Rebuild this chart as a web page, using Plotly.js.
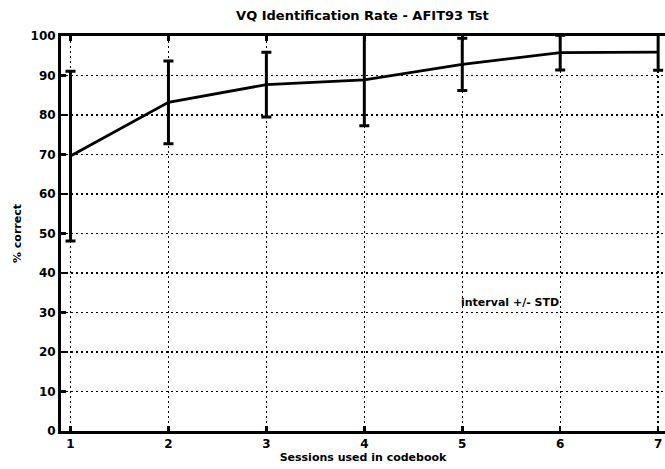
<!DOCTYPE html>
<html><head><meta charset="utf-8">
<script src="https://cdn.plot.ly/plotly-3.0.1.min.js"></script>
<style>body{margin:0;background:#fff}#c{width:665px;height:469px}</style>
</head><body><div id="c"></div>
<script>
const sessions = [1, 2, 3, 4, 5, 6, 7];
const rate = [69.6, 83.2, 87.7, 88.9, 92.8, 95.8, 95.9];
const stdDev = [21.5, 10.5, 8.2, 11.6, 6.6, 4.4, 4.6];
const yTicks = [0, 10, 20, 30, 40, 50, 60, 70, 80, 90, 100];

const fam = 'DejaVu Sans, Liberation Sans, Arial, sans-serif';
const font = (size) => ({family: fam, color: '#000', weight: 'bold', size: size});
const grid = {showgrid: true, gridcolor: '#000', griddash: '1.5px,3.5px', gridwidth: 1.3};

Plotly.newPlot('c', [{
  x: sessions, y: rate, type: 'scatter', mode: 'lines',
  line: {color: '#000', width: 2.8},
  error_y: {type: 'data', array: stdDev, visible: true, color: '#000', thickness: 3, width: 5},
  hoverinfo: 'skip'
}], {
  width: 665, height: 469,
  margin: {l: 61, r: 0, t: 36, b: 38},
  paper_bgcolor: '#fff', plot_bgcolor: '#fff',
  showlegend: false,
  title: {text: 'VQ Identification Rate - AFIT93 Tst', font: font(13), x: 0.545, xanchor: 'center', y: 0.966, yanchor: 'middle'},
  xaxis: Object.assign({
    range: [0.903, 7.07], tickvals: sessions, ticks: 'inside', ticklen: 5, tickwidth: 2.5, tickcolor: '#000',
    showline: true, linecolor: '#000', linewidth: 3, mirror: 'ticks', zeroline: false,
    tickfont: font(12), ticklabelstandoff: 0,
    title: {text: 'Sessions used in codebook', font: font(11), standoff: 2}
  }, grid),
  yaxis: Object.assign({
    range: [0, 100], tickvals: yTicks, ticks: 'inside', ticklen: 5, tickwidth: 2.5, tickcolor: '#000',
    showline: true, linecolor: '#000', linewidth: 3, mirror: false, zeroline: false,
    tickfont: font(12), ticklabelstandoff: 0,
    title: {text: '% correct', font: font(11), standoff: 7}
  }, grid),
  annotations: [{
    x: 5, y: 30.5, xref: 'x', yref: 'y', text: 'interval +/- STD', showarrow: false,
    xanchor: 'left', yanchor: 'bottom', xshift: -3, font: font(11)
  }]
}, {displayModeBar: false, staticPlot: true});
</script></body></html>
